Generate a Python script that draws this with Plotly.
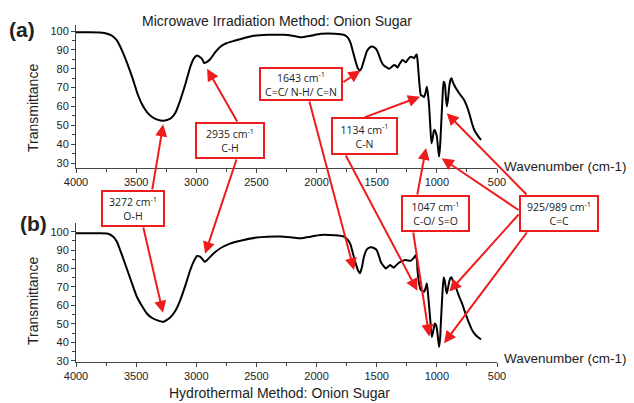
"""FTIR spectra of onion sugar: microwave vs hydrothermal method."""

import plotly.graph_objects as go

# Panel (a): microwave irradiation method
wn_a = [4000, 3900, 3800, 3740, 3700, 3660, 3620, 3575, 3530, 3490, 3450, 3410, 3370, 3325,
        3272, 3215, 3175, 3135, 3090, 3050, 3020, 2995, 2965, 2950, 2935, 2915, 2885, 2840,
        2800, 2750, 2690, 2600, 2525, 2400, 2275, 2200, 2130, 2050, 1965, 1850, 1775, 1740,
        1717, 1695, 1675, 1655, 1640, 1625, 1605, 1580, 1550, 1520, 1500, 1480, 1467, 1445,
        1425, 1397, 1375, 1356, 1340, 1328, 1310, 1286, 1270, 1258, 1240, 1217, 1200, 1189,
        1175, 1167, 1160, 1156, 1145, 1133, 1115, 1106, 1093, 1083, 1073, 1064, 1055, 1045,
        1035, 1025, 1017, 1008, 1000, 990, 981, 972, 967, 955, 944, 937, 931, 925, 917, 907,
        897, 888, 878, 868, 856, 840, 814, 790, 772, 750, 731, 710, 689, 660, 633]
t_a = [99.3, 99.3, 99.2, 98.6, 97.5, 95, 90, 83, 75, 67, 61, 57, 54.5, 53,
       52.4, 53.5, 56.5, 63, 72, 81, 85.5, 87, 86, 85, 83, 83.5, 85, 89,
       91.7, 93.5, 94.7, 96.3, 97.5, 98, 98, 97.5, 96.7, 97.5, 98.5, 98.6, 98, 96.5,
       93.6, 88.5, 83.7, 80, 79, 80.5, 84.6, 89.5, 91.7, 91.3, 90, 87, 84.6, 82,
       81, 80, 81, 82, 81.5, 80.6, 82.5, 84.6, 84, 83.3, 85, 86.4, 86, 85.6,
       87, 87.6, 84, 81, 72, 66, 65.5, 65, 67.5, 70.5, 66, 60, 50, 40.5,
       43, 47, 47.5, 46, 44, 38, 33.4, 40, 46.6, 62, 73.1, 72.5, 70.5, 65, 60, 64,
       70.5, 74, 75, 73, 71.4, 69.5, 67, 65, 63.3, 60, 56.4, 51.5, 47.5, 44.5, 42.2]

# Panel (b): hydrothermal method
wn_b = [4000, 3850, 3740, 3690, 3660, 3633, 3605, 3578, 3535, 3494, 3450, 3411, 3370, 3328,
        3272, 3217, 3175, 3133, 3090, 3050, 3020, 2994, 2970, 2953, 2933, 2915, 2897, 2850,
        2800, 2720, 2633, 2500, 2411, 2300, 2200, 2133, 2050, 1967, 1850, 1772, 1740, 1717,
        1695, 1675, 1655, 1639, 1622, 1606, 1580, 1550, 1520, 1500, 1480, 1467, 1445, 1425,
        1405, 1389, 1370, 1356, 1335, 1314, 1290, 1258, 1235, 1217, 1195, 1175, 1165, 1161,
        1148, 1133, 1115, 1106, 1093, 1083, 1073, 1064, 1052, 1042, 1030, 1017, 1008, 1000,
        990, 981, 972, 967, 955, 944, 937, 931, 924, 917, 907, 897, 888, 878, 868, 856,
        835, 814, 790, 772, 750, 731, 710, 689, 660, 633]
t_b = [99.1, 99.1, 99, 97.3, 94.5, 90, 85, 80, 72, 64.7, 59.5, 55.6, 53.3, 52,
       51.1, 53.4, 57, 62.9, 71, 79.2, 84, 86.8, 86.5, 85.5, 83.7, 84.3, 85.5, 88.5,
       91, 93.5, 95.1, 96.8, 97.3, 97.4, 96.8, 96.4, 97.3, 98.2, 98, 97.3, 95.5, 92.8,
       87.5, 82.8, 79, 77.4, 81, 86.4, 90.5, 91.5, 91, 90, 86.5, 83.7, 81.5, 80,
       81, 81.9, 81, 80.5, 82, 83.2, 84, 84.6, 84.3, 84.2, 85.5, 87.3, 84, 79.2,
       72, 68.3, 67.8, 67.4, 69.5, 72, 66, 59.2, 50, 42.9, 46, 50.2, 49.5, 47.5,
       42, 37.5, 43, 50.2, 65, 75.2, 74, 72, 68.5, 66.5, 69.5, 73, 74.8, 75.2, 73.5, 72,
       68.5, 64.7, 61, 57.4, 53.5, 50.2, 47, 44.8, 42.8, 41.5]

box_texts = ["3272 cm<sup>-1</sup><br>O-H", "2935 cm<sup>-1</sup><br>C-H",
             "1643 cm<sup>-1</sup><br>C=C/ N-H/ C=N", "1134 cm<sup>-1</sup><br>C-N",
             "1047 cm<sup>-1</sup><br>C-O/ S=O", "925/989 cm<sup>-1</sup><br>C=C"]

# the page puts the figure 8px in from the window's top-left corner
PAGE_OFF = 8
W, H = 634 - PAGE_OFF, 403 - PAGE_OFF
RED = "#ee1c1c"


def fx(x):
    return (x - PAGE_OFF) / W


def fy(y):
    return 1 - (y - PAGE_OFF) / H


# window-pixel geometry of the two panels
X0, X1 = 76, 497
PA = dict(top=25, bottom=168, r0=27.35, r1=103.2)
PB = dict(top=223, bottom=362, r0=29.3, r1=104.7)


def px_to_wn(x):
    return 4000 - (x - X0) * 3500 / (X1 - X0)


def py_to_t(y, p):
    return p["r0"] + (p["bottom"] - y) * (p["r1"] - p["r0"]) / (p["bottom"] - p["top"])


fig = go.Figure()
fig.add_trace(go.Scatter(x=wn_a, y=t_a, mode="lines", xaxis="x", yaxis="y",
                         line=dict(color="black", width=2, shape="spline", smoothing=0.5)))
fig.add_trace(go.Scatter(x=wn_b, y=t_b, mode="lines", xaxis="x2", yaxis="y2",
                         line=dict(color="black", width=2, shape="spline", smoothing=0.5)))

xax = dict(range=[4000, 500], dtick=500, tick0=0, showline=True, linecolor="#444", linewidth=1,
           ticks="outside", ticklen=4, tickcolor="#444", showgrid=False, zeroline=False,
           automargin=False, tickfont=dict(family="Arial", size=11, color="#222"),
           minor=dict(dtick=250, ticks="outside", ticklen=3, tickcolor="#444"),
           domain=[fx(X0), fx(X1)])
yax = dict(dtick=10, tick0=0, showline=True, linecolor="#444", linewidth=1, ticks="outside",
           ticklen=4, tickcolor="#444", showgrid=False, zeroline=False, automargin=False,
           tickfont=dict(family="Arial", size=11, color="#222"),
           minor=dict(dtick=5, ticks="outside", ticklen=3, tickcolor="#444"))

fig.update_layout(
    width=W, height=H, margin=dict(l=0, r=0, t=0, b=0, autoexpand=False),
    paper_bgcolor="white", plot_bgcolor="white", showlegend=False,
    xaxis=dict(xax, anchor="y"),
    yaxis=dict(yax, range=[PA["r0"], PA["r1"]], anchor="x",
               domain=[fy(PA["bottom"]), fy(PA["top"])]),
    xaxis2=dict(xax, anchor="y2"),
    yaxis2=dict(yax, range=[PB["r0"], PB["r1"]], anchor="x2",
                domain=[fy(PB["bottom"]), fy(PB["top"])]),
)

txt = dict(family="Arial", color="#222")


def label(text, x, y, size, **kw):
    opts = dict(xanchor="center", yanchor="middle")
    opts.update(kw)
    fig.add_annotation(text=text, x=fx(x), y=fy(y), xref="paper", yref="paper",
                       showarrow=False, font=dict(txt, size=size), **opts)


label("Microwave Irradiation Method: Onion Sugar", 277, 21, 14)
label("Hydrothermal Method: Onion Sugar", 279, 393, 14)
label("Wavenumber (cm-1)", 502, 167, 13.5, xanchor="left")
label("Wavenumber (cm-1)", 502, 358, 13.5, xanchor="left")
label("Transmittance", 33, 108, 14, textangle=-90)
label("Transmittance", 33, 301, 14, textangle=-90)
label("<b>(a)</b>", 22, 30, 21)
label("<b>(b)</b>", 33, 223, 21)

# arrows: (panel, head wavenumber, head transmittance, tail px x, tail px y)
arrows = [
    ("a", 3275, 50.5, 152, 191), ("b", 3277, 56, 143, 226),
    ("a", 2910, 80, 238, 123), ("b", 2927, 88, 237, 158),
    ("a", 1635, 79, 342, 83), ("b", 1689, 79.2, 309, 100),
    ("a", 1140, 65.2, 363, 118), ("b", 1162, 68, 345, 154),
    ("a", 1090, 38, 417, 196), ("b", 1063, 43.1, 413, 231),
    ("a", 918, 56.4, 528, 196), ("a", 960, 32.5, 520, 211),
    ("b", 896, 67.5, 520, 213), ("b", 940, 39.5, 528, 231),
]
for panel, hx, hy, tx, ty in arrows:
    p = PA if panel == "a" else PB
    xr, yr = ("x", "y") if panel == "a" else ("x2", "y2")
    fig.add_annotation(text="", x=hx, y=hy, xref=xr, yref=yr,
                       ax=px_to_wn(tx), ay=py_to_t(ty, p), axref=xr, ayref=yr,
                       showarrow=True, arrowhead=2, arrowsize=1.2, arrowwidth=2,
                       arrowcolor=RED)

# red boxes (window px left, top, right, bottom), drawn over the arrow tails
boxes = [(102, 191, 164, 226), (196, 123, 264, 158), (260, 68, 342, 100),
         (332, 118, 397, 154), (402, 196, 469, 231), (520, 196, 598, 231)]
for text, (l, t, r, b) in zip(box_texts, boxes):
    fig.add_annotation(text=text, x=fx((l + r) / 2), y=fy((t + b) / 2),
                       xref="paper", yref="paper", xanchor="center", yanchor="middle",
                       showarrow=False, width=r - l - 2, height=b - t - 2, borderpad=0,
                       bordercolor=RED, borderwidth=2, bgcolor="white",
                       font=dict(family="Open Sans", size=10.5, color="#222"))

fig.write_html("out.html")
